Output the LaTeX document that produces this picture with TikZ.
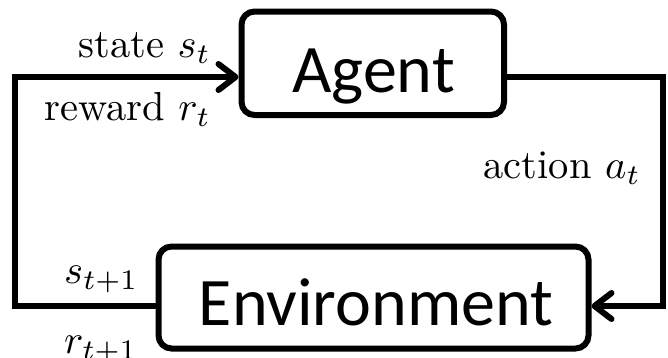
\documentclass[tikz,border=0pt]{standalone}
\usepackage{fontspec}
\usepackage{graphicx}
\newfontfamily\boxfont{Carlito}
\usetikzlibrary{arrows.meta}
\newcommand{\biglbl}[1]{\scalebox{4.05}{#1}}
\begin{document}
\begin{tikzpicture}[x=1pt,y=-1pt,
  box/.style={draw=black, line width=6pt, rounded corners=13pt, inner sep=0pt, fill=white},
  boxtext/.style={inner sep=0pt, anchor=base, font=\boxfont\fontsize{68}{80}\selectfont},
  lbl/.style={inner sep=0pt},
  flow/.style={line width=6pt, -{Straight Barb[length=17pt,width=26pt,round]}}
]
\useasboundingbox (0,0) rectangle (668,357);
% boxes
\node[box, minimum width=262.5pt, minimum height=103.5pt] (Agent) at (372.75,63.25) {};
\node[box, minimum width=430pt, minimum height=102pt] (Env) at (373.5,297.5) {};
\node[boxtext] (agenttxt) at (373.5,92) {Agent};
\node[boxtext] (envtxt) at (376,325) {Environment};
% corners
\coordinate (L1) at (15,306);
\coordinate (L2) at (15,77);
\coordinate (R1) at (663,77);
\coordinate (R2) at (663,306);
% connectors
\draw[flow] ([yshift=-8.5pt]Env.west) -- (L1) -- (L2) -- ([yshift=-13.75pt]Agent.west);
\draw[flow] ([yshift=-13.75pt]Agent.east) -- (R1) -- (R2) -- ([yshift=-8.5pt]Env.east);
% labels
\node[lbl, anchor=base east] (state) at (211,57) {\biglbl{state $s_t$}};
\node[lbl, anchor=base east] (reward) at (211,120) {\biglbl{reward $r_t$}};
\node[lbl, anchor=base east] (action) at (641,178) {\biglbl{action $a_t$}};
\node[lbl, anchor=base west] (snext) at (64,283) {\biglbl{$s_{t+1}$}};
\node[lbl, anchor=base west] (rnext) at (64,353) {\biglbl{$r_{t+1}$}};
\end{tikzpicture}
\end{document}
